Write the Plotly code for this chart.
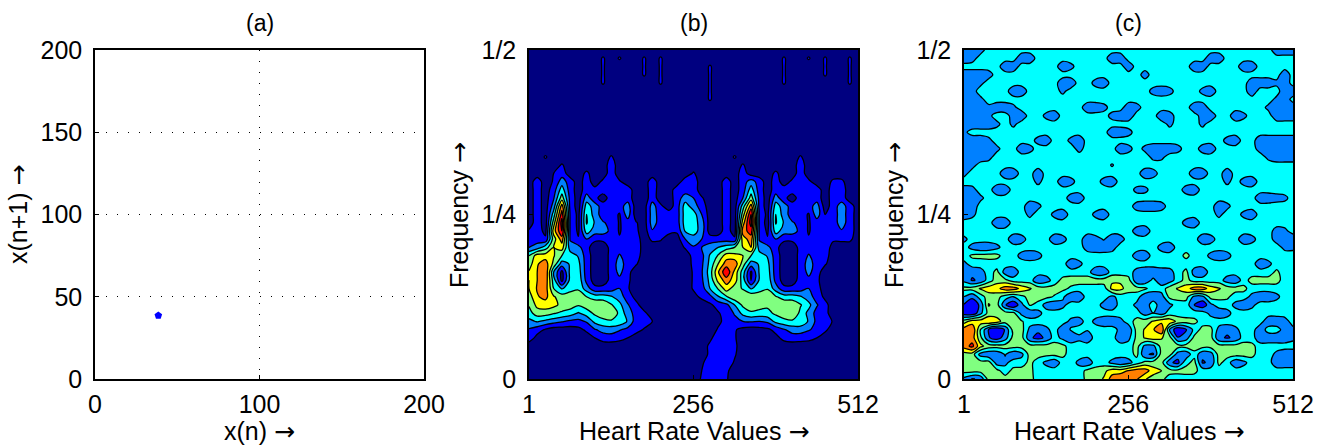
import numpy as np
import plotly.graph_objects as go
from plotly.subplots import make_subplots

# (a) return map point
POINT_X = [38.5]
POINT_Y = [38.6]

X_TICKS_A = [0, 100, 200]
Y_TICKS_A = [0, 50, 100, 150, 200]
X_TICKS_TF = [1, 256, 512]
X_LABELS_TF = ["1", "256", "512"]
Y_TICKS_TF = [0, 0.25, 0.5]
Y_LABELS_TF = ["0", "1/4", "1/2"]

BAND_COLORS = ["#000080", "#0000ff", "#0080ff", "#00ffff", "#80ff80",
               "#ffff00", "#ff8000", "#ff0000", "#800000"]

# Time-frequency estimates, row 0 = top (freq 1/2), col 0 = left.
# Only cells that differ from the panel's background value are listed.
B_BASE = 0
B_ROWS = {
 1:{9:.6,11:.6,14:.6,16:.6,31:.6,34:.6,36:.6,39:.6},
 2:{9:.6,14:.6,16:.6,22:.6,31:.6,36:.6,39:.6},
 3:{9:.6,14:.6,16:.6,22:.6,31:.6,36:.6,39:.6},
 4:{9:.6,16:.6,22:.6,31:.6,39:.6},
 5:{22:.6},
 6:{22:.6},
 13:{2:.6,10:.6,25:.6,33:.6},
 14:{4:.6,10:1,26:.6,33:1},
 15:{3:.5,4:1,7:.7,10:1,20:.6,26:1,30:.7,33:1},
 16:{1:1,3:.6,4:2,5:1,7:1,9:.7,10:1,11:.6,15:1,19:1,20:1,24:1,26:1,27:2,28:1,30:1,32:.7,33:1,34:.7,37:.7,38:.7},
 17:{1:1,3:1,4:3,5:1,7:1,8:.8,9:1,10:1,11:1,12:1,15:1,18:1,19:1,20:1,24:1,26:1,27:3,28:1,30:1,31:1,32:1,33:1,34:1,35:1,37:1,38:1},
 18:{1:1,3:1.4,4:4,5:1.2,7:2,8:.8,10:1,11:1,12:1,15:1,18:1,19:2,20:1.5,21:.6,24:1,26:1.5,27:4,28:1.2,30:2,31:.8,33:1,34:1,35:1,37:1,38:1},
 19:{1:1,3:2,4:6,5:1.2,7:3,8:2,9:1,10:1,11:1,12:2,15:2,16:.7,18:1,19:3,20:2,21:1,24:1,26:3,27:6,28:1.2,30:3,31:2,32:1,33:1,34:1,35:2,37:1,38:2,39:1},
 20:{1:1,3:3,4:7,5:1.4,6:.2,7:3.5,8:2,9:1,10:1,11:.4,12:2,15:2,16:1,17:1,18:1,19:3,20:3,21:1.5,24:1,26:4,27:7.5,28:1.4,29:.2,30:3.5,31:2,32:1,33:1,34:.4,35:2,36:.5,37:1,38:2,39:1},
 21:{1:1,3:4,4:8,5:1.4,6:.2,7:3.6,8:2.4,9:1.6,10:1.2,11:.4,12:1,13:.6,15:2,16:1,17:1.2,18:1,19:3,20:3,21:2,24:1,26:5,27:8,28:1.4,30:3.6,31:2.4,32:1.6,33:1.2,34:.4,35:1,36:.6,37:1,38:2,39:1},
 22:{0:.6,1:1,2:.2,3:5,4:7.5,5:1.4,6:.3,7:3,8:2,9:2,10:1.2,11:.4,12:1,13:.7,15:1.4,16:1,17:.8,18:.7,19:2.6,20:3,21:2,24:1,26:6,27:7,28:1.4,29:.3,30:3,31:2,32:2,33:1.2,34:.4,35:1,36:.7,37:1,38:1.4,39:1},
 23:{0:1,1:1,2:.7,3:4,4:6,5:1.4,6:.6,7:1.5,8:.7,9:.7,10:1,11:.6,12:1,13:1,15:.7,16:.6,19:1.5,20:2,21:1.5,22:1,23:1,24:1,25:.7,26:5,27:6,28:1.4,29:.6,30:1.5,31:.7,32:.7,33:1,34:.6,35:1,36:1,37:.7,38:.7,39:.7},
 24:{0:1.5,1:2,2:3,3:4.5,4:5,5:2,6:1.8,7:.8,10:.8,11:1,12:1,13:1.2,19:.6,20:1.4,21:1.5,22:2,23:2.5,24:3,25:3.5,26:4.5,27:5.5,28:2,29:1.8,30:.8,33:.8,34:1,35:1,36:1.2},
 25:{0:3.5,1:5,2:5,3:4.6,4:3.5,5:3,6:2.4,7:1,10:.8,11:1.6,12:1,13:1,20:.8,21:1.2,22:2.6,23:3.6,24:5,25:4.8,26:4.5,27:3.5,28:3,29:2.4,30:1,33:.8,34:1.6,35:1,36:.9},
 26:{0:4,1:5.4,2:6,3:4.2,4:2,5:2.6,6:2.8,7:1,10:.8,11:2,12:1,13:.6,20:.7,21:1.3,22:2.8,23:4.5,24:6,25:6.2,26:4,27:2,28:2.6,29:2.8,30:1,33:.8,34:2,35:1,36:.6},
 27:{0:4.6,1:5.5,2:6.4,3:2.5,4:.2,5:2.8,6:3,7:1,10:.8,11:1.8,12:.8,20:.6,21:1.4,22:3,23:5.4,24:7.4,25:5.2,26:3,27:.3,28:2.6,29:3,30:1,33:.8,34:1.8,35:.9},
 28:{0:4.5,1:5.5,2:6.2,3:3,4:.2,5:2.8,6:3.2,7:1.2,10:.8,11:1.2,12:.7,20:.6,21:1.3,22:2.8,23:4.8,24:6,25:5,26:3,27:.4,28:2.6,29:3.2,30:1.2,33:.9,34:1.2,35:.7},
 29:{0:4.5,1:5.6,2:6,3:3.5,4:2.4,5:3,6:3.3,7:2,8:.8,9:.8,10:1,11:1.5,12:.6,20:.6,21:1,22:2.5,23:3.6,24:5,25:4,26:3.4,27:2.4,28:3,29:3.4,30:2,31:.8,32:.8,33:1,34:1.5,35:.9},
 30:{0:4,1:5.4,2:5.8,3:4.6,4:4,5:4.2,6:4.4,7:3.5,8:3,9:3,10:2.6,11:2,12:1,13:.2,20:.2,21:.7,22:1.2,23:2.4,24:3.4,25:4.2,26:4.4,27:4.3,28:4.2,29:4.4,30:3.6,31:3,32:3,33:2.6,34:2,35:1,36:.3},
 31:{0:3.6,1:4.8,2:5,3:4.8,4:4.2,5:4,6:3.6,7:4,8:4.3,9:4.2,10:3.6,11:2.8,12:1.6,13:.8,22:.3,23:.9,24:1.2,25:2.5,26:3.7,27:4.2,28:4,29:3.7,30:4,31:4.3,32:4.2,33:3.6,34:2.8,35:1.6,36:.8},
 32:{0:3.1,1:4,2:4,3:3.6,4:3.3,5:3,6:2.4,7:3,8:3.7,9:4.1,10:4.5,11:3.2,12:2,13:1.1,14:.7,23:.4,24:.9,25:1.6,26:2.8,27:3.3,28:3.1,29:3.2,30:3.7,31:4.1,32:4.5,33:3.2,34:2.2,35:1.1,36:.8},
 33:{0:2.2,1:2.6,2:2.2,3:1.9,4:1.6,5:1.3,6:1.2,7:1.6,8:2.8,9:3.2,10:3.3,11:3.2,12:2.4,13:1,14:1,15:.5,23:.3,24:.8,25:1.2,26:1.5,27:1.6,28:1.5,29:1.7,30:2.8,31:3.2,32:3.3,33:3.2,34:2.4,35:1.2,36:1,37:.4},
 34:{0:1.4,1:.9,2:.4,6:.2,7:.7,8:1.4,9:1.9,10:2,11:1.6,12:1.2,13:.9,14:.4,23:.6,24:.9,25:.6,26:.2,28:.1,29:.3,30:.8,31:1.4,32:1.9,33:2,34:1.6,35:1.2,36:.7},
 35:{0:1,1:.2,8:.5,9:.9,10:1,11:.8,12:.5,22:.3,23:1,24:1,25:.6,30:.2,31:.8,32:1,33:.9,34:.8,35:.5},
 36:{22:.7,23:1,24:1,25:.7},
 37:{22:.7,23:1,24:1,25:.6},
 38:{21:.4,22:.8,23:1,24:1,25:.4},
 39:{21:.5,22:1,23:1,24:.7},
 40:{21:.6,22:1,23:1,24:.6},
}

C_BASE = 3
C_ROWS = {
 0:{0:1.7,1:1.7,2:2,38:1.7,39:1.7,40:1.7},
 1:{0:1.7,1:2,7:1.7,8:1.7,18:1.7,19:1.7,30:1.7,31:1.7},
 2:{5:1.7,6:1.7,12:1.7,13:2.2,20:1.7,28:1.7,29:1.7,34:1.7,35:1.7},
 3:{0:1.7,1:1.7,2:1.7,3:2,22:2,39:1.7},
 4:{0:1.7,1:1.7,2:2.2,12:1.7,13:1.7,16:2.1,17:1.7,35:1.7,36:1.7,37:1.7,38:2.2,39:1.7},
 5:{0:1.7,1:2,6:1.7,7:1.7,12:2.2,23:2.1,24:1.7,25:2.1,29:2.2,30:1.7,35:1.7,39:1.7,40:1.7},
 6:{0:1.7,1:2.1,2:2.2,38:2.2,39:1.7},
 7:{0:1.7,1:1.7,2:1.7,3:2.2,4:1.7,5:1.7,6:2.2,15:1.7,16:1.7,17:2.1,20:1.7,21:2,28:1.7,29:1.7,37:2.2,38:1.7,39:1.7,40:1.7},
 8:{0:1.7,1:1.7,2:1.7,3:2.2,6:2,7:1.7,10:2.2,11:1.7,18:2.1,19:1.7,20:1.7,24:1.7,25:2,29:2,30:1.7,33:1.7,34:2.2,38:1.7,39:1.7,40:1.7},
 9:{0:1.7,1:1.7,2:1.7,3:1.7,4:2.2,6:2.2,25:2.2,29:2.2},
 10:{0:2.2,18:1.7,19:1.7,20:2.1},
 11:{0:1.7,1:1.7,2:1.7,3:2.2,9:2.1,10:1.7,13:2.2,14:1.7,32:2.1,33:1.7,36:1.7,37:1.7,38:1.7,39:1.7,40:1.7},
 12:{0:1.7,1:1.7,2:1.7,3:1.7,4:2.2,7:1.7,8:2.1,14:2.1,19:1.7,20:2.1,22:2.2,23:1.7,24:1.7,25:1.7,26:2.1,29:2,30:1.7,36:2,37:2.2,38:2.2,39:1.7,40:1.7},
 13:{0:1.7,1:1.7,2:1.7,3:2.1,23:2.2,24:2.2,37:2.2,38:1.7,39:1.7,40:1.7},
 14:{0:1.7,1:2.1,18:2.4},
 15:{0:2.1,5:1.7,6:1.7,9:1.7,22:1.7,23:2,28:1.7,29:1.7,32:1.7},
 16:{9:2.2,12:1.7,13:2.1,17:2.1,18:1.7,32:2.2,34:2.1,35:1.7},
 17:{0:2,1:2.1,4:1.7,5:1.7,21:2.2,22:2.2,27:2,28:1.7},
 18:{0:1.7,1:1.7,2:2.2,13:2,14:1.7,36:1.7,37:1.7,38:2,39:2.2},
 19:{0:1.7,1:1.7,8:1.7,9:2.2,21:2,22:1.7,23:1.7,24:2,31:1.7,32:2.2},
 20:{0:1.7,1:2.2,8:2.2,11:2.2,12:1.7,16:2.2,17:1.7,31:2.2,34:2.2,35:1.7},
 21:{4:1.7,5:1.7,27:2.1,28:1.7},
 22:{21:2,22:1.7,38:2,39:2.2},
 23:{0:2.2,6:1.7,7:2,11:1.7,12:2.1,15:1.7,16:2.1,17:2.6,18:1.7,19:2,29:1.7,30:2,34:1.7,35:2.1,38:2,39:1.7,40:1.7},
 24:{1:2.1,2:1.7,3:1.7,4:2.2,15:2,16:1.7,17:1.7,18:2,24:2.1,25:1.7,39:2.2,40:2.2},
 25:{1:3.7,2:3.8,3:3.9,4:3.8,7:2.1,8:1.7,9:2.1,21:2,22:1.7,27:3.8,30:2.2,31:1.7,32:2.1},
 26:{0:2.2,13:1.7,14:2.2,36:1.7,37:2.2},
 27:{0:2.2,1:1.7,2:2,4:3.8,5:2,6:1.7,16:1.7,17:1.7,21:2.1,22:1.7,23:1.7,24:2,25:2.1,27:3.8,28:2,29:1.7,38:3.7},
 28:{0:2.2,1:1.4,2:1.7,4:4,5:3.8,9:1.7,10:2,12:3.8,13:4,14:4,15:4,16:4,17:4,18:4.3,19:4.3,20:3.9,21:1.7,22:1.7,23:2.8,24:1.7,25:2,27:3.9,32:2,33:1.7,35:3.9,36:3.9,37:3.9,38:3.9},
 29:{0:3.8,1:3.9,2:4.6,3:5,4:5.2,5:6,6:6,7:5.2,8:4.6,9:4,10:3.9,11:3.9,12:3.8,13:3.3,18:4.8,19:4.8,20:4,21:3.9,22:3.7,25:4,26:4.6,27:5,28:6,29:6,30:5,31:4.6,32:4,33:3.9,34:3.8},
 30:{0:2.5,1:1.7,3:4,4:3.9,6:2.5,7:3.2,8:3.9,9:3.9,10:3.8,11:3.4,12:2.7,13:1.7,14:1.7,18:2.2,22:1.7,23:1.7,24:2,25:3.8,26:3.9,27:3.9,28:2.2,29:2.2,30:3.9,31:3.8,32:3.7,35:2.2,36:1.7,37:1.7,38:2.2},
 31:{0:1.4,1:.8,2:1.7,3:4.6,4:3.9,5:1.6,6:.6,7:2.2,8:3.6,9:3.2,10:2,11:1.7,12:2.2,17:2.1,18:1.7,21:2.2,22:1.7,23:3.2,24:1.7,25:2.2,28:1.5,29:.8,30:2.2,33:2.2,34:1.7,35:2.2},
 32:{0:1,1:.7,2:2.2,3:3.9,4:3.9,5:3.9,6:3.8,7:2.2,8:1.7,9:2.1,22:2,23:2.5,24:2,30:2.2,31:1.7,32:2.1},
 33:{0:4,1:5,2:5,3:5.4,4:5,5:3.9,6:3.8,7:3.6,13:2.2,14:2,16:2.2,17:1.7,18:1.7,19:2.1,21:3.9,22:4,23:4.6,24:5.2,25:5.2,26:4.2,27:3.9,28:3.8,37:1.7,38:1.7,39:2},
 34:{0:6,1:6.4,2:3.5,3:1.4,4:.6,5:1.6,6:3.9,7:3.9,8:2.2,9:1.7,10:2.2,12:1.7,13:2.6,15:2.6,19:2.2,20:1.7,21:3.9,22:4.6,23:5.4,24:6.4,25:2.4,26:.6,27:1.4,28:2.8,29:3.9,30:3.8,31:2.1,32:1.7,33:2.2,36:1.7,39:2,40:2.2},
 35:{0:6,1:6,2:3.8,3:1.6,4:1,5:2,6:3.9,7:3.9,8:1.7,9:1.2,10:1.7,12:2.2,13:1.7,14:2.2,15:1.7,19:1.7,20:2.2,21:3.8,22:4.6,23:5,24:4.6,25:3.9,26:1.6,27:2,28:3.8,29:3.9,30:3.9,31:1.7,32:1.4,33:1.7,36:1.7,37:1.7,38:1.7,39:1.7,40:2.2},
 36:{0:6,1:6.8,2:4.8,3:4,4:3.9,5:3.9,6:3.9,7:3.9,8:3.9,9:3.9,10:3.9,11:3.9,12:3.8,21:3.9,22:2.2,23:2.2,24:3.9,25:3.9,26:3.9,27:3.9,28:3.9,29:3.9,30:3.9,31:3.9,32:3.9,33:3.9,34:3.9,35:3.8},
 37:{0:4,1:4,2:2.1,3:1.7,4:1.7,5:2.6,6:1.7,7:2.2,8:3.9,9:3.9,10:3.8,11:3.8,12:3.8,21:3.8,22:1.6,23:1.4,24:3.9,25:3.9,26:2,27:1.7,28:3.2,29:1.7,30:2,31:3.9,32:3.9,33:3.9,34:3.9,35:3.8,38:2.2,39:1.7,40:1.7},
 38:{0:3.9,1:4,2:3.9,3:3.9,4:2,5:2.2,8:3.8,10:2.2,11:1.7,14:2.2,15:1.7,18:2.2,19:1.7,20:2.1,22:3.8,23:3.9,24:3.9,25:1.7,26:1.2,27:3.2,28:3.8,29:1.4,30:1.7,31:3.8,33:1.7,34:2.2,38:1.7,39:1.7,40:1.7},
 39:{0:3.9,1:3.9,2:3.9,3:3.8,4:3.8,6:3.8,7:3.9,8:3.8,15:3.8,16:3.9,17:4.2,18:5,19:5,20:5.6,21:6,22:6,23:5,24:4.5,25:3.9,26:3.8,27:3.9,28:3.8},
 40:{0:2.2,1:1.4,2:1.7,3:3.9,4:3.9,5:3.9,6:3.9,7:4,8:3.9,15:3.8,16:4,17:4.6,18:6,19:6.4,20:6.4,21:5.6,22:4.6,23:4,24:3.8},
}

N = 41


def grid(base, rows):
    z = np.full((N, N), float(base))
    for r, cells in rows.items():
        for c, v in cells.items():
            z[N - 1 - r, c] = v
    return z


W, H = 1326, 448
LEFTS = [95, 529, 964]
PW = 329
TOP, BOT = 50, 379
FONT = "Liberation Sans, Arial, sans-serif"
TICK = 25
LABEL = 25
TITLE = 23

fig = make_subplots(rows=1, cols=3)

fig.add_trace(go.Scatter(x=POINT_X, y=POINT_Y, mode="markers",
                         marker=dict(color="#0000ff", size=8, symbol="pentagon"),
                         showlegend=False), row=1, col=1)

tx = np.linspace(1, 512, N)
fy = np.linspace(0, 0.5, N)
scale = [[k / 8, c] for k, c in enumerate(BAND_COLORS)]
for col, (base, rows) in zip([2, 3], [(B_BASE, B_ROWS), (C_BASE, C_ROWS)]):
    fig.add_trace(go.Contour(
        x=tx, y=fy, z=grid(base, rows), colorscale=scale, showscale=False,
        contours=dict(start=0.5, end=7.5, size=1, coloring="fill", showlines=True),
        line=dict(color="black", width=1.3, smoothing=0.85),
        hoverinfo="skip"), row=1, col=col)

axis_common = dict(showline=True, linecolor="black", linewidth=1.5, mirror=True,
                   ticks="inside", ticklen=4, tickcolor="black", tickwidth=1,
                   zeroline=False, automargin=False,
                   tickfont=dict(family=FONT, size=TICK, color="black"))
for idx, left in enumerate(LEFTS):
    suffix = "" if idx == 0 else str(idx + 1)
    xa = dict(axis_common, domain=[left / W, (left + PW) / W], anchor="y" + suffix, ticklabelstandoff=2)
    ya = dict(axis_common, domain=[(H - BOT) / H, (H - TOP) / H], anchor="x" + suffix, ticklabelstandoff=6)
    if idx == 0:
        griddot = dict(showgrid=True, gridcolor="black", gridwidth=1, griddash="1px,10px")
        xa.update(range=[0, 200], tickvals=X_TICKS_A, **griddot)
        ya.update(range=[0, 200], tickvals=Y_TICKS_A, **griddot)
    else:
        xa.update(range=[1, 512], tickvals=X_TICKS_TF, ticktext=X_LABELS_TF, showgrid=False)
        ya.update(range=[0, 0.5], tickvals=Y_TICKS_TF, ticktext=Y_LABELS_TF, showgrid=False)
    fig.layout["xaxis" + suffix] = xa
    fig.layout["yaxis" + suffix] = ya

ARROW = '<span style="font-family:DejaVu Sans">\u2192</span>'
TITLES = ["(a)", "(b)", "(c)"]
XLABELS = ["x(n) " + ARROW, "Heart Rate Values " + ARROW, "Heart Rate Values " + ARROW]
YLABELS = ["x(n+1) " + ARROW, "Frequency " + ARROW, "Frequency " + ARROW]
YLABEL_X = [18, 459, 894]

ann = []
for left, t, xl, yl, ylx in zip(LEFTS, TITLES, XLABELS, YLABELS, YLABEL_X):
    cx = (left + PW / 2) / W
    ann.append(dict(x=cx, y=1 - 23 / H, text=t, showarrow=False, xref="paper", yref="paper",
                    xanchor="center", yanchor="middle", font=dict(family=FONT, size=TITLE, color="black")))
    ann.append(dict(x=cx, y=1 - 431 / H, text=xl, showarrow=False, xref="paper", yref="paper",
                    xanchor="center", yanchor="middle", font=dict(family=FONT, size=LABEL, color="black")))
    ann.append(dict(x=ylx / W, y=1 - 215 / H, text=yl, showarrow=False, textangle=-90, xref="paper", yref="paper",
                    xanchor="center", yanchor="middle", font=dict(family=FONT, size=LABEL, color="black")))

fig.update_layout(width=W, height=H, margin=dict(l=0, r=0, t=0, b=0),
                  paper_bgcolor="white", plot_bgcolor="white", showlegend=False,
                  annotations=ann)
fig.write_html("out.html", config={"displayModeBar": False},
               post_script="document.body.style.margin='0';document.documentElement.style.overflow='hidden';")
